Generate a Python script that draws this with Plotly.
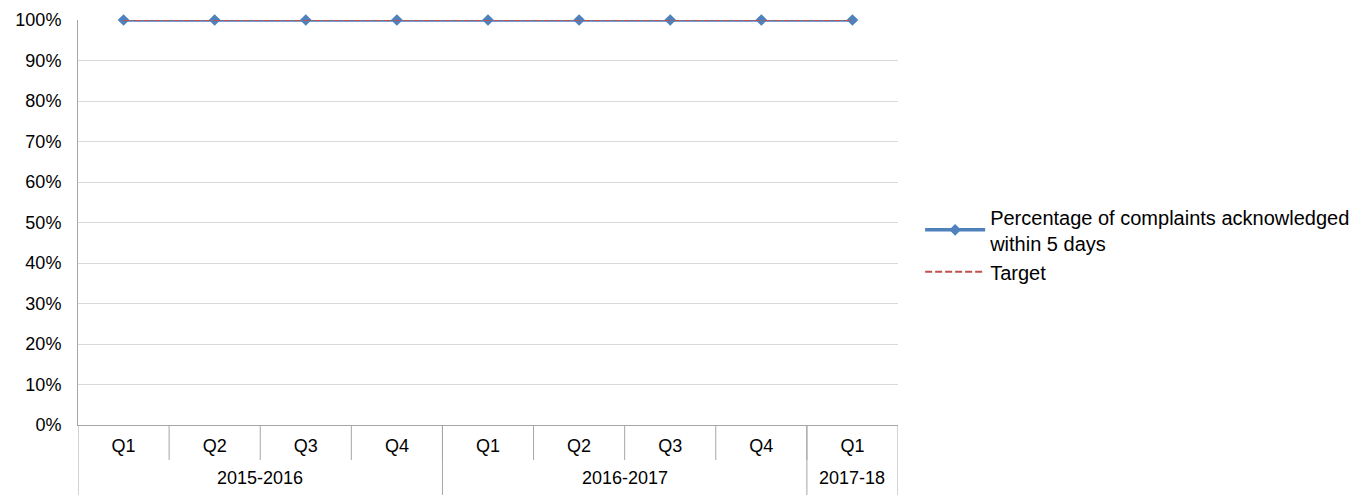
import plotly.graph_objects as go

years = ["2015-2016"] * 4 + ["2016-2017"] * 4 + ["2017-18"]
quarters = ["Q1", "Q2", "Q3", "Q4", "Q1", "Q2", "Q3", "Q4", "Q1"]
acknowledged = [1.0, 1.0, 1.0, 1.0, 1.0, 1.0, 1.0, 1.0, 1.0]
target = [1.0, 1.0, 1.0, 1.0, 1.0, 1.0, 1.0, 1.0, 1.0]
y_ticks = [0, 0.1, 0.2, 0.3, 0.4, 0.5, 0.6, 0.7, 0.8, 0.9, 1.0]

idx = list(range(len(quarters)))
AXIS_GREY = "#A6A6A6"
FONT = "Liberation Sans, Arial, sans-serif"
PLOT_H = 495 - 20 - 70

fig = go.Figure()
fig.add_trace(go.Scatter(
    x=idx, y=acknowledged, mode="lines+markers",
    name="Percentage of complaints acknowledged<br>within 5 days",
    legendgroup="a",
    line=dict(color="#4F81BD", width=3.5),
    marker=dict(symbol="diamond", size=9, color="#4F81BD"),
    cliponaxis=False,
))
fig.add_trace(go.Scatter(
    x=idx, y=target, mode="lines",
    name="Target", legendgroup="b",
    line=dict(color="#C0504D", width=2, dash="7px,3px"),
    cliponaxis=False,
))

# year groups: labels and dividers
groups = []
for i, yv in enumerate(years):
    if not groups or groups[-1][0] != yv:
        groups.append([yv, i, i])
    else:
        groups[-1][2] = i

shapes = []
annotations = []
for name, start, end in groups:
    annotations.append(dict(
        x=(start + end) / 2, y=0, xref="x", yref="paper",
        text=name, showarrow=False, yanchor="middle", yshift=-53,
        font=dict(family=FONT, size=18, color="black"),
    ))
bounds = [g[1] - 0.5 for g in groups] + [groups[-1][2] + 0.5]
for b in bounds:
    shapes.append(dict(
        type="line", xref="x", yref="paper", x0=b, x1=b,
        y0=0, y1=-70 / PLOT_H, line=dict(color=AXIS_GREY, width=1),
    ))
# quarter dividers
for i in idx[:-1]:
    shapes.append(dict(
        type="line", xref="x", yref="paper", x0=i + 0.5, x1=i + 0.5,
        y0=0, y1=-35 / PLOT_H, line=dict(color=AXIS_GREY, width=1),
    ))

fig.update_layout(
    width=1370, height=495,
    margin=dict(l=78, r=472, t=20, b=70),
    paper_bgcolor="white", plot_bgcolor="white",
    font=dict(family=FONT, size=18, color="black"),
    showlegend=True,
    legend=dict(x=1.027, y=0.446, xanchor="left", yanchor="middle",
                font=dict(size=20), tracegroupgap=0, itemwidth=60),
    xaxis=dict(
        range=[-0.5, len(quarters) - 0.5],
        tickvals=idx, ticktext=quarters, ticks="",
        ticklabelstandoff=4, automargin=False,
        showline=True, linecolor=AXIS_GREY, linewidth=1,
        showgrid=False, zeroline=False, tickfont=dict(size=18),
    ),
    yaxis=dict(
        range=[0, 1.0], tickvals=y_ticks, tickformat=".0%",
        showgrid=True, gridcolor="#D9D9D9", gridwidth=1,
        showline=True, linecolor=AXIS_GREY, linewidth=1, automargin=False,
        zeroline=False, ticks="", ticklabelstandoff=12, tickfont=dict(size=18),
    ),
    shapes=shapes,
    annotations=annotations,
)

fig.write_html("out.html")
